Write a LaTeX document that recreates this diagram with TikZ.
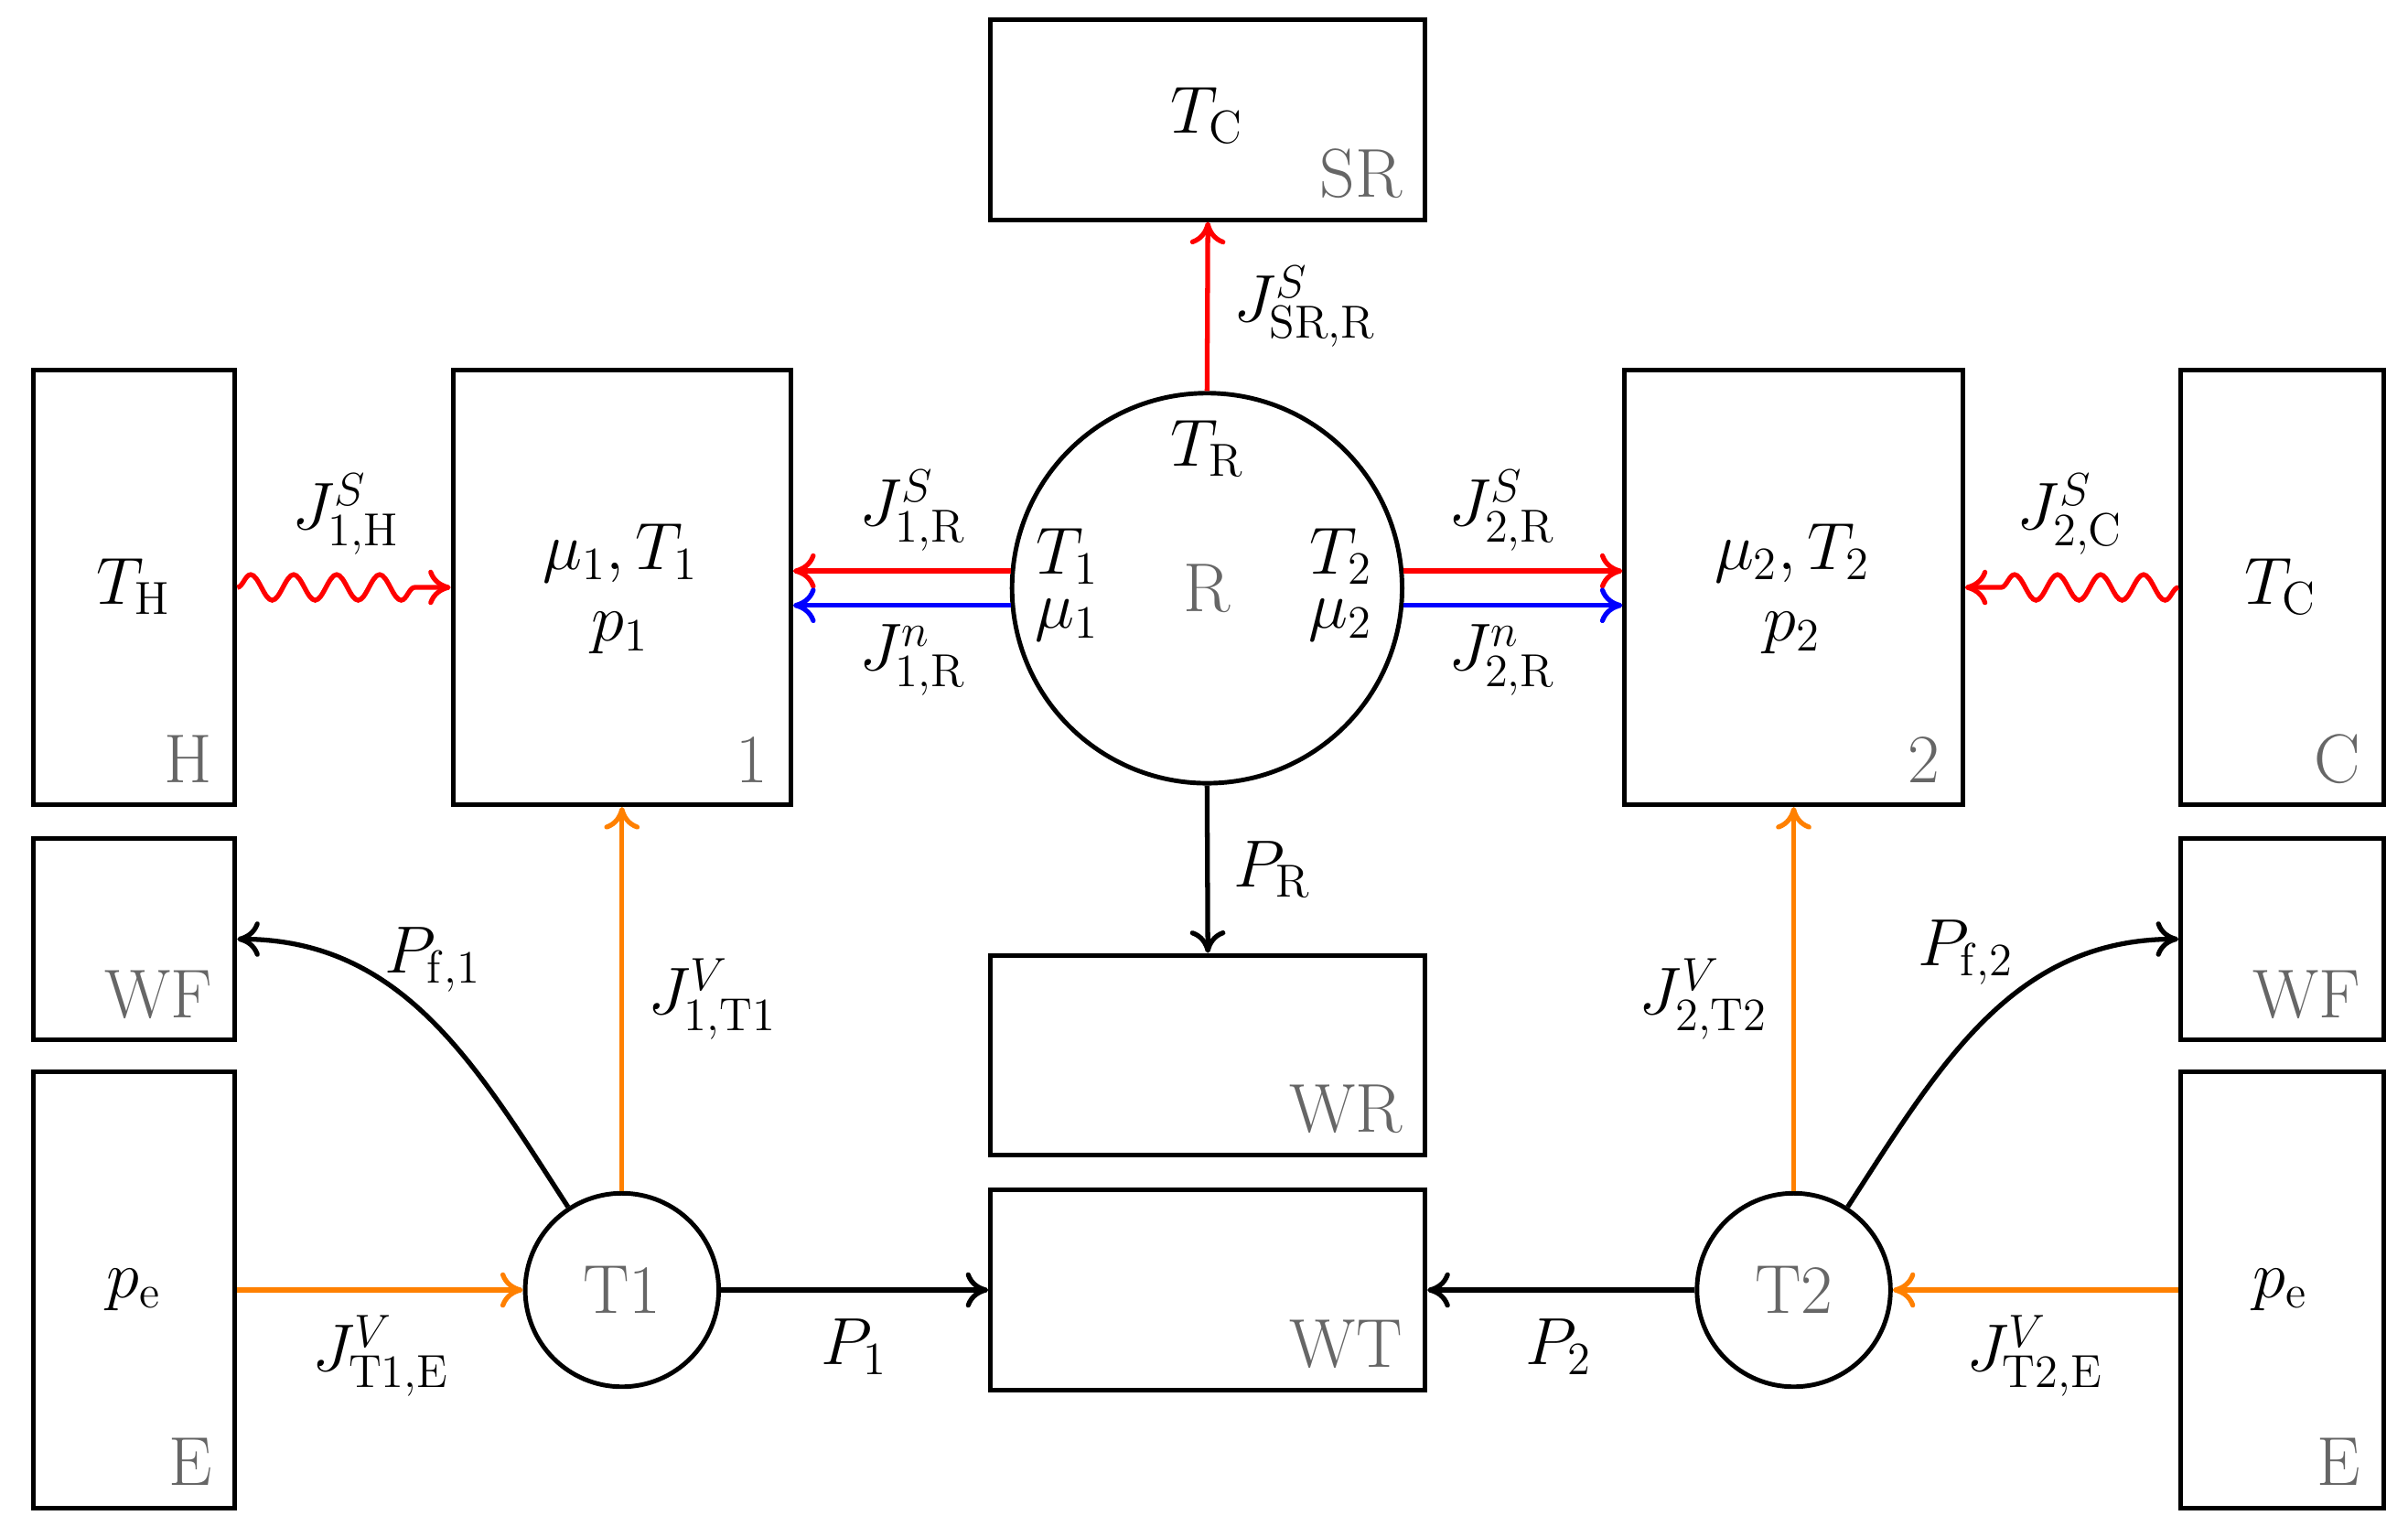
\documentclass[tikz,border=0pt]{standalone}
\usetikzlibrary{decorations.pathmorphing,arrows.meta}
\begin{document}
\def\U{0.016786cm}
\definecolor{myorange}{RGB}{255,128,0}
\begin{tikzpicture}[x=0.016786cm,y=-0.016786cm,
  font=\fontsize{21.5}{25}\selectfont,
  box/.style={draw,line width=1.4pt,inner sep=0,minimum width=#1},
  cir/.style={draw,circle,line width=1.4pt,inner sep=0,minimum size=#1},
  tag/.style={text=black!60,anchor=base east,inner sep=0},
  lab/.style={text=black},
  arr/.style={line width=1.5pt,-{To[length=7pt,width=11pt]}},
  wav/.style={arr,red,decorate,decoration={snake,amplitude=1.4mm,segment length=4.7mm,post length=2.5mm}}]
\useasboundingbox (0,0) rectangle (1568,1000.8);
% boxes
\node[box=283*\U,minimum height=130*\U] (SR) at (786.5,78) {};
\node[box=131*\U,minimum height=283*\U] (H) at (87.5,382.5) {};
\node[box=220*\U,minimum height=283*\U] (B1) at (405,382.5) {};
\node[box=220*\U,minimum height=283*\U] (B2) at (1168,382.5) {};
\node[box=132*\U,minimum height=283*\U] (C) at (1486,382.5) {};
\node[box=131*\U,minimum height=131*\U] (WFL) at (87.5,611.5) {};
\node[box=131*\U,minimum height=284*\U] (EL) at (87.5,840) {};
\node[box=132*\U,minimum height=131*\U] (WFR) at (1486,611.5) {};
\node[box=132*\U,minimum height=284*\U] (ER) at (1486,840) {};
\node[box=283*\U,minimum height=130*\U] (WR) at (786.5,687) {};
\node[box=283*\U,minimum height=130*\U] (WT) at (786.5,840) {};
\node[cir=254*\U] (R) at (786,383) {};
\node[cir=126*\U] (T1) at (405,840) {};
\node[cir=126*\U] (T2) at (1168,840) {};
% corner tags
\foreach \b/\t in {SR/SR,H/H,B1/1,B2/2,C/C,WFL/WF,EL/E,WFR/WF,ER/E,WR/WR,WT/WT}
  \node[tag] at ([shift={(-16,-16)}]\b.south east) {\t};
% texts
\node at (786,75) {$T_{\mathrm{C}}$};
\node at (87,382) {$T_{\mathrm{H}}$};
\node at (1485,382) {$T_{\mathrm{C}}$};
\node at (404,360) {$\mu_1,T_1$};
\node at (404,412) {$p_1$};
\node at (1167,360) {$\mu_2,T_2$};
\node at (1167,412) {$p_2$};
\node at (786,292) {$T_{\mathrm{R}}$};
\node at (695,362) {$T_1$};
\node at (695,404) {$\mu_1$};
\node at (873,362) {$T_2$};
\node at (873,404) {$\mu_2$};
\node[text=black!60] at (786,383) {R};
\node[text=black!60] at (T1) {T1};
\node[text=black!60] at (T2) {T2};
\node at (87,840) {$p_{\mathrm{e}}$};
\node at (1485,840) {$p_{\mathrm{e}}$};
% arrows
\draw[arr,red] (R.north) -- (SR.south) node[lab,pos=0.5,right=4pt] {$J^S_{\mathrm{SR,R}}$};
\draw[arr,red] (R.175) -- (R.175 -| B1.east) node[lab,pos=0.45,above=2pt] {$J^S_{1,\mathrm{R}}$};
\draw[arr,blue] (R.185) -- (R.185 -| B1.east) node[lab,pos=0.45,below=2pt] {$J^n_{1,\mathrm{R}}$};
\draw[arr,red] (R.5) -- (R.5 -| B2.west) node[lab,pos=0.45,above=2pt] {$J^S_{2,\mathrm{R}}$};
\draw[arr,blue] (R.355) -- (R.355 -| B2.west) node[lab,pos=0.45,below=2pt] {$J^n_{2,\mathrm{R}}$};
\draw[wav] (H.east) -- (B1.west);
\node at (225,335) {$J^S_{1,\mathrm{H}}$};
\draw[wav] (C.west) -- (B2.east);
\node at (1348,335) {$J^S_{2,\mathrm{C}}$};
\draw[arr] (R.south) -- (WR.north) node[pos=0.5,right=4pt] {$P_{\mathrm{R}}$};
\draw[arr,myorange] (T1.north) -- (B1.south) node[lab,pos=0.5,right=4pt] {$J^V_{1,\mathrm{T1}}$};
\draw[arr,myorange] (T2.north) -- (B2.south) node[lab,pos=0.5,left=4pt] {$J^V_{2,\mathrm{T2}}$};
\draw[arr,myorange] (EL.east) -- (T1.west);
\node at (248,883) {$J^V_{\mathrm{T1,E}}$};
\draw[arr,myorange] (ER.west) -- (T2.east);
\node at (1325,883) {$J^V_{\mathrm{T2,E}}$};
\draw[arr] (T1.east) -- (WT.west);
\node at (556,877) {$P_1$};
\draw[arr] (T2.west) -- (WT.east);
\node at (1015,877) {$P_2$};
\draw[arr] (T1.123) to[out=123,in=0] (WFL.east);
\node at (282,625) {$P_{\mathrm{f},1}$};
\draw[arr] (T2.57) to[out=57,in=180] (WFR.west);
\node at (1280,620) {$P_{\mathrm{f},2}$};
\end{tikzpicture}
\end{document}
